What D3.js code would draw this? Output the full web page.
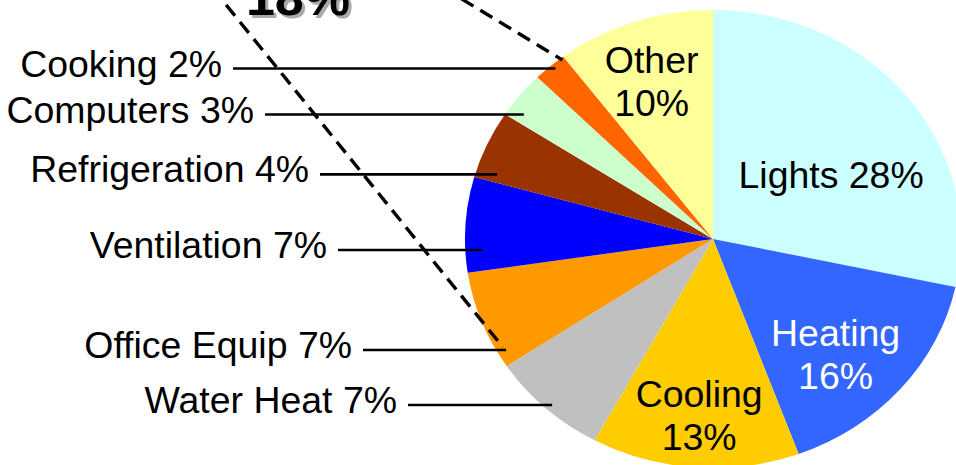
<!DOCTYPE html>
<html>
<head>
<meta charset="utf-8">
<script src="https://cdn.jsdelivr.net/npm/d3@7"></script>
<style>
body{margin:0;background:#fff}
svg{display:block}
text{font-family:"Liberation Sans",Arial,sans-serif}
</style>
</head>
<body>
<div id="chart"></div>
<script>
// slices clockwise from 12 o'clock
var names=['Lights','Heating','Cooling','Water Heat','Office Equip','Ventilation','Refrigeration','Computers','Cooking','Other']
var pctLabels=['28%','16%','13%','7%','7%','7%','4%','3%','2%','10%']
// shares as drawn in the picture
var shares=[28.3,16,13.5,7.7,7,6.7,4.8,3.3,2.2,10.3]
var colors=['#CCFFFF','#3366FF','#FFCC00','#C0C0C0','#FF9900','#0000FF','#993300','#CCFFCC','#FF6600','#FFFF99']
var groupLabel='18%'

var W=956,H=465
var cx=713,cy=239,rx=248,ry=229
var sx=1.04 // text is a bit wider than plain Arial

var svg=d3.select('#chart').append('svg')
    .attr('width',W).attr('height',H)

var pie=d3.pie().sort(null).value(function(d){return d})
var arcs=pie(shares)
var arc=d3.arc().innerRadius(0).outerRadius(rx)

var g=svg.append('g')
    .attr('transform','translate('+cx+','+cy+') scale(1,'+(ry/rx)+')')
g.selectAll('path')
    .data(arcs)
    .enter().append('path')
    .attr('d',arc)
    .attr('fill',function(d,i){return colors[i]})

// point on the ellipse at angle a (radians, clockwise from top), k = fraction of radius
function pt(a,k){
    return [cx+k*rx*Math.sin(a), cy-k*ry*Math.cos(a)]
}
function edgeX(y){
    var dy=(y-cy)/ry
    return cx-rx*Math.sqrt(1-dy*dy)
}
function label(x,y,anchor){
    return svg.append('g')
	.attr('transform','translate('+x+','+y+') scale('+sx+',1)')
	.append('text')
	.attr('text-anchor',anchor)
	.attr('font-size',fs)
}

var fs=36, lh=43

// labels inside the pie
var inside={
    0:{da:8.6,k:0.552,fill:'#000',lines:[names[0]+' '+pctLabels[0]]},
    1:{da:4.7,k:0.707,fill:'#fff',lines:[names[1],pctLabels[1]]},
    2:{da:0,k:0.773,fill:'#000',lines:[names[2],pctLabels[2]]},
    9:{da:-1.2,k:0.731,fill:'#000',lines:[names[9],pctLabels[9]]}
}
Object.keys(inside).forEach(function(i){
    var d=arcs[i], o=inside[i]
    var mid=(d.startAngle+d.endAngle)/2+o.da*Math.PI/180
    var p=pt(mid,o.k)
    var n=o.lines.length
    var t=label(p[0],p[1],'middle').attr('fill',o.fill)
    o.lines.forEach(function(s,j){
	t.append('tspan')
	    .attr('x',0)
	    .attr('y',13+(j-(n-1)/2)*lh)
	    .text(s)
    })
})

// callouts on the left
var callIdx=[8,7,6,5,4,3]
var callY=[68.5,114.5,174.3,250,350,405]
var callX0=[233,265,320,338,363,408]
var callIn=[8,19,22,17,10,10]
callIdx.forEach(function(i,j){
    svg.append('line')
	.attr('x1',callX0[j]).attr('x2',edgeX(callY[j])+callIn[j])
	.attr('y1',callY[j]).attr('y2',callY[j])
	.attr('stroke','#000').attr('stroke-width',2.7)
    label(callX0[j]-11,callY[j]+8,'end')
	.text(names[i]+' '+pctLabels[i])
})

// dashed lines to the group shown above
var apex=[-9,-286]
var dashEnds=[pt(arcs[9].startAngle-0.012,0.99), pt(arcs[4].startAngle+0.08,0.97)]
dashEnds.forEach(function(p){
    svg.append('line')
	.attr('x1',apex[0]).attr('y1',apex[1])
	.attr('x2',p[0]).attr('y2',p[1])
	.attr('stroke','#000').attr('stroke-width',3.4)
	.attr('stroke-dasharray','14,8')
})

svg.append('text')
    .attr('x',301).attr('y',18)
    .attr('text-anchor','middle')
    .attr('font-size',52).attr('font-weight','bold')
    .attr('fill','#aaa')
    .text(groupLabel)
svg.append('text')
    .attr('x',298).attr('y',15)
    .attr('text-anchor','middle')
    .attr('font-size',52).attr('font-weight','bold')
    .attr('fill','#000')
    .text(groupLabel)
</script>
</body>
</html>
